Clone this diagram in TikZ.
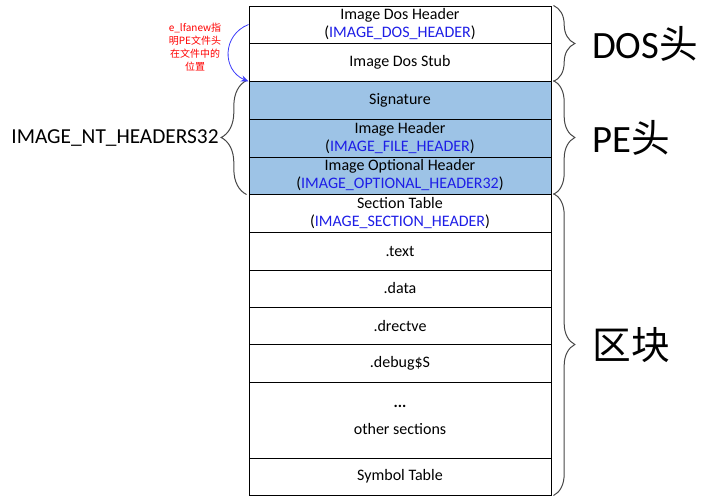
\documentclass[tikz,border=0pt]{standalone}
\usepackage{fontspec}
\setmainfont{Carlito}
\newfontfamily\cjk{Noto Sans CJK SC}
\usetikzlibrary{positioning,decorations.pathreplacing}
\usetikzlibrary{arrows.meta}
\definecolor{peblue}{RGB}{157,195,230}
\definecolor{typeblue}{RGB}{30,30,230}
\definecolor{bracegray}{RGB}{70,70,70}
\definecolor{arrowblue}{RGB}{60,60,250}
\tikzset{>={Stealth[length=2mm,width=1.6mm]}}
\newcommand{\tname}[1]{(\textcolor{typeblue}{#1})}

\begin{document}
\begin{tikzpicture}[x=0.75pt,y=-0.75pt]
  \tikzstyle{cell} = [draw=black, line width=0.75pt, minimum width=226.5pt, minimum height=28pt, inner sep=0pt, align=center, font=\fontsize{12}{13.5}\selectfont]
  \tikzstyle{pecell} = [cell, fill=peblue]
  \tikzstyle{brc} = [draw=bracegray, line width=0.75pt, decorate, decoration={brace, amplitude=16pt}]
  \tikzstyle{biglbl} = [font=\fontsize{29}{30}\selectfont]
  \useasboundingbox (0,0) rectangle (721,497);

  % file layout
  \node[cell, minimum height=27.75pt] (doshdr) at (400,24.5) {Image Dos Header\\\tname{IMAGE\_DOS\_HEADER}};
  \node[cell, minimum height=28.5pt] (dosstub) at (400,62) {Image Dos Stub};
  \node[pecell, minimum height=28.5pt] (sig) at (400,100) {Signature};
  \node[pecell, minimum height=28.5pt] (filehdr) at (400,138) {Image Header\\\tname{IMAGE\_FILE\_HEADER}};
  \node[pecell, minimum height=27.75pt] (opthdr) at (400,175.5) {Image Optional Header\\\tname{IMAGE\_OPTIONAL\_HEADER32}};
  \node[cell, minimum height=28.5pt] (sectab) at (400,213) {Section Table\\\tname{IMAGE\_SECTION\_HEADER}};
  \node[cell, minimum height=28.5pt] (text) at (400,251) {.text};
  \node[cell, minimum height=27.75pt] (data) at (400,288.5) {.data};
  \node[cell, minimum height=27.75pt] (drectve) at (400,325.5) {.drectve};
  \node[cell, minimum height=28.5pt] (debug) at (400,363) {.debug\$S};
  \node[cell, minimum height=57pt] (other) at (400,420) {{\bfseries ...}\\[6.5pt]other sections};
  \node[cell, minimum height=27.75pt] (symtab) at (400,476.5) {Symbol Table};

  % braces
  \draw[brc] ([xshift=1.5pt]doshdr.north east) -- ([xshift=1.5pt]dosstub.south east);
  \draw[brc] ([xshift=1.5pt]sig.north east) -- ([xshift=1.5pt]opthdr.south east);
  \draw[brc] ([xshift=1.5pt]sectab.north east) -- ([xshift=1.5pt]symtab.south east);
  \draw[brc, decoration={brace, amplitude=19pt}] ([xshift=-1.5pt]opthdr.south west) -- ([xshift=-1.5pt]sig.north west);

  \node[biglbl] (doslbl) at (645,44) {DOS{\cjk 头}};
  \node[biglbl] (pelbl) at (631,138) {PE{\cjk 头}};
  \node[biglbl] (seclbl) at (631,345) {\cjk 区块};
  \node[font=\fontsize{16}{18}\selectfont] (ntlbl) at (115,138) {IMAGE\_NT\_HEADERS32};

  % e_lfanew note
  \node[font=\cjk\fontsize{7.5}{9.75}\selectfont, text=red, align=center] (note) at (195,47) {e\_lfanew指\\明PE文件头\\在文件中的\\位置};
  \draw[->, draw=arrowblue, fill=none, line width=0.6pt] (doshdr.west) .. controls (222,35) and (222,70) .. (dosstub.south west);
\end{tikzpicture}
\end{document}
